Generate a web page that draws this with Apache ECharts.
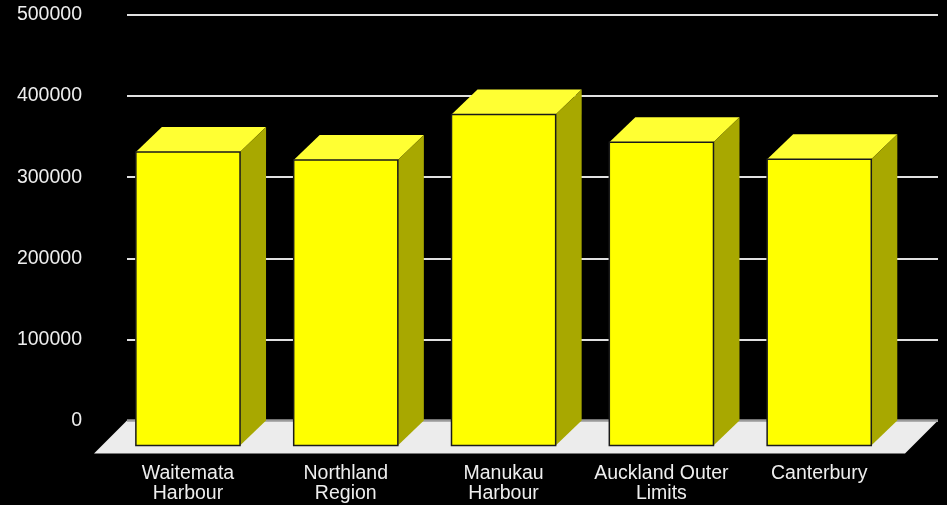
<!DOCTYPE html>
<html>
<head>
<meta charset="utf-8">
<script src="https://cdn.jsdelivr.net/npm/echarts@6/dist/echarts.min.js"></script>
<style>
html,body{margin:0;padding:0;background:#000;}
#chart{width:947px;height:505px;}
</style>
</head>
<body>
<div id="chart"></div>
<script>
var categories = ['Waitemata\nHarbour', 'Northland\nRegion', 'Manukau\nHarbour', 'Auckland Outer\nLimits', 'Canterbury'];
var values = [362000, 352000, 408000, 374000, 353000];
var yMin = 0, yMax = 500000, yStep = 100000;

var DX = 26, DY = 25;        // bar depth offset (px)
var FDX = 33, FDY = 33;      // floor depth offset (px)
var BAR_RATIO = 0.66;        // bar width as share of category spacing
var X_MIN = -0.551, X_MAX = 4.588;
var FONT = 'Arial, "Liberation Sans", sans-serif';

var chart = echarts.init(document.getElementById('chart'));

function renderFloor(params, api) {
  var bl = api.coord([X_MIN, 0]);
  var br = api.coord([X_MAX, 0]);
  return {
    type: 'group',
    children: [
      {
        type: 'polygon',
        shape: { points: [[bl[0], bl[1]], [br[0], br[1]], [br[0] - FDX, br[1] + FDY], [bl[0] - FDX, bl[1] + FDY]] },
        style: { fill: '#ececec' }
      },
      {
        type: 'line',
        shape: { x1: bl[0], y1: bl[1], x2: br[0], y2: br[1] },
        style: { stroke: '#9a9a9a', lineWidth: 2.5 }
      }
    ]
  };
}

function renderBar(params, api) {
  var i = api.value(0);
  var v = api.value(1);
  var top = api.coord([i, v]);
  var base = api.coord([i, 0]);
  var w = api.size([BAR_RATIO, 0])[0];
  var bx = top[0];                 // back-plane centre
  var fx = bx - DX;                // front-plane centre
  var fl = fx - w / 2, fr = fx + w / 2;
  var ft = top[1] + DY, fb = base[1] + DY;
  return {
    type: 'group',
    children: [
      {
        type: 'polygon',
        shape: { points: [[fl, ft], [fr, ft], [fr + DX, ft - DY], [fl + DX, ft - DY]] },
        style: { fill: '#ffff33' }
      },
      {
        type: 'polygon',
        shape: { points: [[fr, ft], [fr + DX, ft - DY], [fr + DX, fb - DY], [fr, fb]] },
        style: { fill: '#a8a800' }
      },
      {
        type: 'rect',
        shape: { x: fl, y: ft, width: w, height: fb - ft },
        style: { fill: '#ffff00', stroke: '#1a1a1a', lineWidth: 1.5 }
      },
      {
        type: 'text',
        x: fx,
        y: base[1] + 43,
        style: {
          text: categories[params.dataIndex],
          align: 'center',
          verticalAlign: 'top',
          fill: '#eeeeee',
          fontSize: 19.5,
          lineHeight: 20,
          fontFamily: FONT
        }
      }
    ]
  };
}

chart.setOption({
  backgroundColor: '#000000',
  animation: false,
  grid: { left: 127, right: 9, top: 15, bottom: 84.5, containLabel: false },
  xAxis: {
    type: 'value', min: X_MIN, max: X_MAX, show: false
  },
  yAxis: {
    type: 'value', min: yMin, max: yMax, interval: yStep,
    axisLine: { show: false },
    axisTick: { show: false },
    axisLabel: {
      color: '#eeeeee', fontSize: 19.5, margin: 45, fontFamily: FONT,
      formatter: function (val) { return String(val); }
    },
    splitLine: { lineStyle: { color: '#e0e0e0', width: 2 } }
  },
  series: [
    {
      type: 'custom',
      renderItem: renderFloor,
      data: [[0, 0]],
      z: 2,
      silent: true
    },
    {
      type: 'custom',
      renderItem: renderBar,
      data: values.map(function (v, i) { return [i, v]; }),
      z: 3,
      clip: false
    }
  ]
});
</script>
</body>
</html>
